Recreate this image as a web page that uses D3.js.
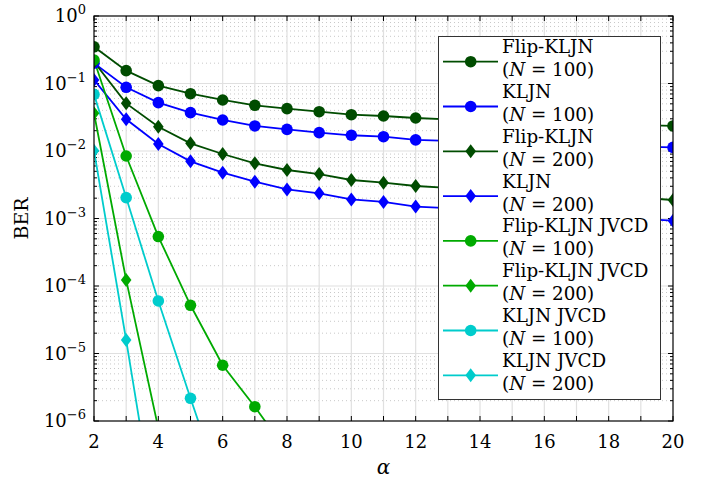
<!DOCTYPE html>
<html>
<head>
<meta charset="utf-8">
<script src="https://cdn.jsdelivr.net/npm/d3@7"></script>
<style>
body { margin: 0; background: #fff; }
</style>
</head>
<body>
<div id="main_div"></div>
<script>
var alpha = [2, 3, 4, 5, 6, 7, 8, 9, 10, 11, 12, 13, 14, 15, 16, 17, 18, 19, 20];

// BER values (13..19 sit behind the legend)
var flip_100 = [0.35, 0.155, 0.093, 0.0706, 0.057, 0.0475, 0.0424, 0.0382, 0.0345, 0.033, 0.0308, 0.0295, 0.0283, 0.0273, 0.0265, 0.0256, 0.0249, 0.0242, 0.0235];
var kljn_100 = [0.2, 0.0878, 0.052, 0.037, 0.0288, 0.0235, 0.0209, 0.0187, 0.0171, 0.0163, 0.0146, 0.0141, 0.0135, 0.013, 0.0126, 0.0122, 0.0119, 0.0116, 0.0113];
var flip_200 = [0.21, 0.0508, 0.0229, 0.013, 0.00903, 0.00657, 0.00523, 0.00456, 0.00372, 0.0034, 0.00303, 0.00285, 0.0027, 0.00255, 0.00242, 0.00229, 0.00218, 0.00203, 0.00188];
var kljn_200 = [0.113, 0.0295, 0.0127, 0.00703, 0.00477, 0.00351, 0.0027, 0.00236, 0.00192, 0.00176, 0.0015, 0.00142, 0.00134, 0.00126, 0.00119, 0.00112, 0.00105, 0.00099, 0.00093];
var flipjv_100 = [0.223, 0.00843, 5.4e-4, 5.18e-5, 6.7e-6, 1.63e-6, 3.5e-7];
var flipjv_200 = [0.0362, 1.23e-4, 7.8e-7];
var kljnjv_100 = [0.069, 2.04e-3, 6.0e-5, 2.17e-6, 8.7e-8];
var kljnjv_200 = [0.0101, 1.58e-5, 1.9e-8];

var series = [
    {name: "Flip-KLJN", n: 100, color: "#004c00", marker: "circle", values: flip_100},
    {name: "KLJN", n: 100, color: "#0000ff", marker: "circle", values: kljn_100},
    {name: "Flip-KLJN", n: 200, color: "#004c00", marker: "diamond", values: flip_200},
    {name: "KLJN", n: 200, color: "#0000ff", marker: "diamond", values: kljn_200},
    {name: "Flip-KLJN JVCD", n: 100, color: "#00aa00", marker: "circle", values: flipjv_100},
    {name: "Flip-KLJN JVCD", n: 200, color: "#00aa00", marker: "diamond", values: flipjv_200},
    {name: "KLJN JVCD", n: 100, color: "#00cccc", marker: "circle", values: kljnjv_100},
    {name: "KLJN JVCD", n: 200, color: "#00cccc", marker: "diamond", values: kljnjv_200}
];

var x_ticks = [2, 4, 6, 8, 10, 12, 14, 16, 18, 20];
var y_exps = [0, -1, -2, -3, -4, -5, -6];

var W = 710, H = 482;
var x0 = 94, x1 = 673, y0 = 16, y1 = 421;
var FONT = "DejaVu Serif";

var x_scale = d3.scaleLinear().domain([2, 20]).range([x0, x1]);
var y_scale = d3.scaleLog().domain([1e-6, 1]).range([y1, y0]);

var svg = d3.select("#main_div").append("svg").attr("width", W).attr("height", H);

svg.append("defs").append("clipPath").attr("id", "plotclip")
    .append("rect").attr("x", x0).attr("y", y0).attr("width", x1 - x0).attr("height", y1 - y0);

// grid
var grid = svg.append("g");
var minor_y = [];
y_exps.forEach(function(e) {
    if (e < 0) {
        for (var k = 2; k <= 9; k++) minor_y.push(k * Math.pow(10, e));
    }
});
grid.selectAll(".ymin").data(minor_y).enter().append("line")
    .attr("x1", x0).attr("x2", x1)
    .attr("y1", function(d) { return y_scale(d); }).attr("y2", function(d) { return y_scale(d); })
    .attr("stroke", "#c8c8c8").attr("stroke-width", 1).attr("stroke-dasharray", "1,3");
grid.selectAll(".xg").data(d3.range(3, 20)).enter().append("line")
    .attr("y1", y0).attr("y2", y1)
    .attr("x1", function(d) { return x_scale(d); }).attr("x2", function(d) { return x_scale(d); })
    .attr("stroke", "#e0e0e0").attr("stroke-width", 1.2);
grid.selectAll(".yg").data(y_exps.slice(1, 6)).enter().append("line")
    .attr("x1", x0).attr("x2", x1)
    .attr("y1", function(d) { return y_scale(Math.pow(10, d)); }).attr("y2", function(d) { return y_scale(Math.pow(10, d)); })
    .attr("stroke", "#e0e0e0").attr("stroke-width", 1.2);

// axis ticks (inside)
var ax = svg.append("g").attr("stroke", "#000");
d3.range(2, 21).forEach(function(v) {
    ax.append("line").attr("x1", x_scale(v)).attr("x2", x_scale(v)).attr("y1", y1).attr("y2", y1 - 5);
    ax.append("line").attr("x1", x_scale(v)).attr("x2", x_scale(v)).attr("y1", y0).attr("y2", y0 + 5);
});
y_exps.forEach(function(e) {
    var yy = y_scale(Math.pow(10, e));
    ax.append("line").attr("x1", x0).attr("x2", x0 + 5).attr("y1", yy).attr("y2", yy);
    ax.append("line").attr("x1", x1).attr("x2", x1 - 5).attr("y1", yy).attr("y2", yy);
});
minor_y.forEach(function(v) {
    var yy = y_scale(v);
    ax.append("line").attr("x1", x0).attr("x2", x0 + 3).attr("y1", yy).attr("y2", yy);
    ax.append("line").attr("x1", x1).attr("x2", x1 - 3).attr("y1", yy).attr("y2", yy);
});

// series
var plot = svg.append("g").attr("clip-path", "url(#plotclip)");
var line = d3.line()
    .x(function(d, i) { return x_scale(alpha[i]); })
    .y(function(d) { return y_scale(d); });

series.forEach(function(s) {
    plot.append("path").attr("d", line(s.values))
        .attr("fill", "none").attr("stroke", s.color).attr("stroke-width", 1.8);
});

function drawMarker(g, kind, cx, cy, color) {
    if (kind === "circle") {
        g.append("circle").attr("cx", cx).attr("cy", cy).attr("r", 5.8).attr("fill", color);
    } else {
        g.append("path")
            .attr("d", "M" + cx + "," + (cy - 7) + "L" + (cx + 5.3) + "," + cy + "L" + cx + "," + (cy + 7) + "L" + (cx - 5.3) + "," + cy + "Z")
            .attr("fill", color);
    }
}

series.forEach(function(s) {
    s.values.forEach(function(v, i) {
        drawMarker(plot, s.marker, x_scale(alpha[i]), y_scale(v), s.color);
    });
});

// axes box
svg.append("rect").attr("x", x0).attr("y", y0).attr("width", x1 - x0).attr("height", y1 - y0)
    .attr("fill", "none").attr("stroke", "#000").attr("stroke-width", 1.2);

// tick labels
svg.selectAll(".xl").data(x_ticks).enter().append("text")
    .attr("x", function(d) { return x_scale(d); }).attr("y", 448)
    .attr("text-anchor", "middle").attr("font-family", FONT).attr("font-size", 18)
    .text(function(d) { return d; });

y_exps.forEach(function(e) {
    var yy = y_scale(Math.pow(10, e));
    var t = svg.append("text").attr("x", 86).attr("y", yy + 6).attr("text-anchor", "end")
        .attr("font-family", FONT).attr("font-size", 18);
    t.append("tspan").text("10");
    t.append("tspan").attr("dy", -8).attr("font-size", 13).text(e === 0 ? "0" : "\u2212" + (-e));
});

svg.append("text").attr("transform", "translate(28," + ((y0 + y1) / 2) + ") rotate(-90)")
    .attr("text-anchor", "middle").attr("font-family", FONT).attr("font-size", 19).text("BER");
svg.append("text").attr("x", (x0 + x1) / 2).attr("y", 474)
    .attr("text-anchor", "middle").attr("font-family", FONT).attr("font-size", 20)
    .attr("font-style", "italic").text("\u03b1");

// legend
var lg = svg.append("g");
lg.append("rect").attr("x", 438.5).attr("y", 36.5).attr("width", 222).attr("height", 363)
    .attr("fill", "#fff").attr("stroke", "#333").attr("stroke-width", 1);
series.forEach(function(s, i) {
    var ly = 61.7 + i * 44.8;
    lg.append("line").attr("x1", 443).attr("x2", 498).attr("y1", ly).attr("y2", ly)
        .attr("stroke", s.color).attr("stroke-width", 1.8);
    drawMarker(lg, s.marker, 470.7, ly, s.color);
    lg.append("text").attr("x", 502).attr("y", ly - 8.5).attr("font-family", FONT)
        .attr("font-size", 18.3).text(s.name);
    var t2 = lg.append("text").attr("x", 502).attr("y", ly + 14.5).attr("font-family", FONT)
        .attr("font-size", 18.3);
    t2.append("tspan").text("(");
    t2.append("tspan").attr("font-style", "italic").text("N");
    t2.append("tspan").text(" = " + s.n + ")");
});
</script>
</body>
</html>
